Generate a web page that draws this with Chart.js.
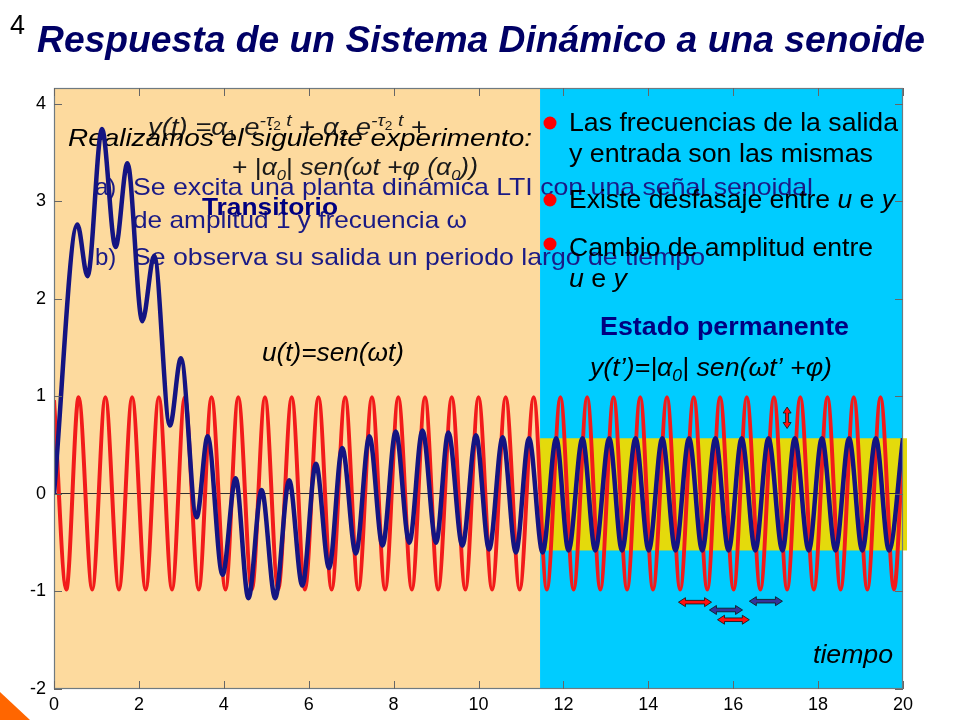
<!DOCTYPE html>
<html><head><meta charset="utf-8">
<script src="https://cdn.jsdelivr.net/npm/chart.js@4.4.1/dist/chart.umd.min.js"></script>
<style>html,body{margin:0;padding:0;background:#fff;}canvas{display:block;}</style>
</head><body>
<canvas id="c" width="960" height="720"></canvas>
<script>
// ---- data ----
// input u(t): extrema (time, value)
const redT = [0, 0.29, 0.58, 0.90, 1.21, 1.53, 1.84, 2.16, 2.47, 2.78, 3.08, 3.41, 3.71, 4.04, 4.34, 4.66, 4.97, 5.28, 5.60, 5.91, 6.23, 6.54, 6.86, 7.17, 7.49, 7.80, 8.11, 8.43, 8.74, 9.05, 9.37, 9.69, 10.00, 10.32, 10.64, 10.97, 11.30, 11.61, 11.93, 12.24, 12.56, 12.87, 13.18, 13.50, 13.81, 14.11, 14.44, 14.75, 15.07, 15.39, 15.69, 16.01, 16.32, 16.64, 16.96, 17.27, 17.58, 17.90, 18.22, 18.53, 18.84, 19.16, 19.47, 19.79, 20.00];
const redV = [0.96, -0.98, 0.99, -0.98, 0.99, -0.98, 0.99, -0.98, 0.99, -0.98, 0.99, -0.98, 0.99, -0.98, 0.99, -0.98, 0.99, -0.98, 0.99, -0.98, 0.99, -0.98, 0.99, -0.98, 0.99, -0.98, 0.99, -0.98, 0.99, -0.98, 0.99, -0.98, 0.99, -0.98, 0.99, -0.98, 0.99, -0.98, 0.99, -0.98, 0.99, -0.98, 0.99, -0.98, 0.99, -0.98, 0.99, -0.98, 0.99, -0.98, 0.99, -0.98, 0.99, -0.98, 0.99, -0.98, 0.99, -0.98, 0.99, -0.98, 0.99, -0.98, 0.99, -0.98, 0.55];
// output y(t): extrema (time, value)
const blueT = [0, 0.55, 0.79, 1.13, 1.45, 1.73, 2.08, 2.36, 2.73, 2.99, 3.36, 3.62, 3.97, 4.28, 4.58, 4.89, 5.21, 5.54, 5.85, 6.17, 6.48, 6.79, 7.11, 7.43, 7.74, 8.05, 8.37, 8.68, 9.00, 9.29, 9.62, 9.94, 10.25, 10.57, 10.88, 11.19, 11.51, 11.83, 12.12, 12.45, 12.75, 13.08, 13.38, 13.70, 14.01, 14.33, 14.64, 14.96, 15.27, 15.58, 15.89, 16.20, 16.52, 16.83, 17.16, 17.45, 17.78, 18.09, 18.41, 18.73, 19.04, 19.36, 19.67, 20.00];
const blueV = [0, 2.76, 2.23, 3.74, 2.53, 3.39, 1.77, 2.44, 0.70, 1.39, -0.24, 0.59, -0.83, 0.16, -1.07, 0.04, -1.07, 0.14, -0.94, 0.31, -0.76, 0.47, -0.61, 0.59, -0.53, 0.64, -0.50, 0.65, -0.50, 0.63, -0.53, 0.60, -0.57, 0.58, -0.60, 0.57, -0.60, 0.57, -0.58, 0.57, -0.58, 0.57, -0.58, 0.57, -0.58, 0.57, -0.58, 0.57, -0.58, 0.57, -0.58, 0.57, -0.58, 0.57, -0.58, 0.57, -0.58, 0.57, -0.58, 0.57, -0.58, 0.57, -0.58, 0.57];
const steadyStart = 11.45;        // time where steady state region begins
const steadyBand = [-0.58, 0.57]; // amplitude band of output
const xRange = [0, 20];
const yRange = [-2, 4.16];
const xTickValues = [0, 2, 4, 6, 8, 10, 12, 14, 16, 18, 20];
const yTickValues = [-2, -1, 0, 1, 2, 3, 4];
// annotation arrows (data coords)
const hArrowT0 = [14.71, 15.44, 15.63, 16.38];
const hArrowT1 = [15.49, 16.22, 16.38, 17.16];
const hArrowV  = [-1.11, -1.19, -1.29, -1.10];
const vArrowT = 17.27, vArrowV = [0.67, 0.89];

const SANS = '"Liberation Sans", Arial, sans-serif';
const NAVY = '#1A1A85';

function drawRich(ctx, segs, x, y, width) {
  let total = 0;
  const ws = segs.map(s => { ctx.font = s[1]; const w = ctx.measureText(s[0]).width; total += w; return w; });
  const sx = width ? width / total : 1;
  ctx.save();
  ctx.translate(x, y); ctx.scale(sx, 1);
  ctx.textBaseline = 'alphabetic'; ctx.textAlign = 'left';
  let cx = 0;
  segs.forEach((s, i) => { ctx.font = s[1]; ctx.fillStyle = s[3] || '#000'; ctx.fillText(s[0], cx, s[2] || 0); cx += ws[i]; });
  ctx.restore();
}
const F = (st, sz) => st + ' ' + sz + 'px ' + SANS;

function hArrow(ctx, x0, x1, y, fill) {
  const h = 7, hw = 4.5, sw = 1.8;
  ctx.beginPath();
  ctx.moveTo(x0, y); ctx.lineTo(x0 + h, y - hw); ctx.lineTo(x0 + h, y - sw); ctx.lineTo(x1 - h, y - sw);
  ctx.lineTo(x1 - h, y - hw); ctx.lineTo(x1, y); ctx.lineTo(x1 - h, y + hw); ctx.lineTo(x1 - h, y + sw);
  ctx.lineTo(x0 + h, y + sw); ctx.lineTo(x0 + h, y + hw); ctx.closePath();
  ctx.fillStyle = fill; ctx.fill(); ctx.strokeStyle = '#111'; ctx.lineWidth = 0.8; ctx.stroke();
}
function vArrow(ctx, x, y0, y1, fill) {
  const h = 6, hw = 4, sw = 1.5;
  ctx.beginPath();
  ctx.moveTo(x, y0); ctx.lineTo(x + hw, y0 + h); ctx.lineTo(x + sw, y0 + h); ctx.lineTo(x + sw, y1 - h);
  ctx.lineTo(x + hw, y1 - h); ctx.lineTo(x, y1); ctx.lineTo(x - hw, y1 - h); ctx.lineTo(x - sw, y1 - h);
  ctx.lineTo(x - sw, y0 + h); ctx.lineTo(x - hw, y0 + h); ctx.closePath();
  ctx.fillStyle = fill; ctx.fill(); ctx.strokeStyle = '#111'; ctx.lineWidth = 0.8; ctx.stroke();
}

const decor = {
  id: 'decor',
  beforeDraw(chart) {
    const { ctx, chartArea: a, scales: { x, y } } = chart;
    ctx.save();
    ctx.fillStyle = '#fff'; ctx.fillRect(0, 0, chart.width, chart.height);
    const xs = x.getPixelForValue(steadyStart);
    ctx.fillStyle = '#FDDA9E'; ctx.fillRect(a.left, a.top, xs - a.left, a.bottom - a.top);
    ctx.fillStyle = '#00CCFF'; ctx.fillRect(xs, a.top, a.right - xs, a.bottom - a.top);
    const yt = y.getPixelForValue(steadyBand[1]), yb = y.getPixelForValue(steadyBand[0]);
    ctx.fillStyle = '#E4DA0C'; ctx.fillRect(xs, yt, a.right - xs + 4, yb - yt);
    ctx.restore();
  },
  beforeDatasetsDraw(chart) {
    const ctx = chart.ctx;
    ctx.save();
    // slide number and title
    drawRich(ctx, [['4', F('', 28), 0, '#000']], 10, 34, 15);
    drawRich(ctx, [['Respuesta de un Sistema Dinámico a una senoide', F('italic bold', 36), 0, '#000066']], 37, 52, 888);
    // formula (figure text)
    const G = '#1a1a1a';
    drawRich(ctx, [
      ['y(t) =', F('italic', 24), 0, G], ['α', F('italic', 24), 0, G], ['1', F('', 15), 5, G],
      [' e', F('italic', 24), 0, G], ['-τ', F('italic', 17), -9, G], ['2', F('', 12), -5, G], [' t', F('italic', 17), -9, G],
      [' + ', F('', 24), 0, G], ['α', F('italic', 24), 0, G], ['2', F('', 15), 5, G],
      [' e', F('italic', 24), 0, G], ['-τ', F('italic', 17), -9, G], ['2', F('', 12), -5, G], [' t', F('italic', 17), -9, G],
      [' +', F('', 24), 0, G]], 148, 135, 279);
    drawRich(ctx, [
      ['+ |', F('', 24), 0, G], ['α', F('italic', 24), 0, G], ['0', F('italic', 15), 5, G], ['| ', F('', 24), 0, G],
      ['sen(ωt +φ (α', F('italic', 24), 0, G], ['0', F('italic', 15), 5, G], ['))', F('italic', 24), 0, G]], 232, 175, 246);
    // left text block
    drawRich(ctx, [['Realizamos el siguiente experimento:', F('italic', 24), 0, '#000']], 68, 146, 464);
    drawRich(ctx, [['a)', F('', 24), 0, NAVY]], 95, 195);
    drawRich(ctx, [['Se excita una planta dinámica LTI con una señal senoidal', F('', 24), 0, NAVY]], 133, 195, 680);
    drawRich(ctx, [['de amplitud 1 y frecuencia ω', F('', 24), 0, NAVY]], 133, 228, 334);
    drawRich(ctx, [['Transitorio', F('bold', 24), 0, '#000080']], 202, 215, 136);
    drawRich(ctx, [['b)', F('', 24), 0, NAVY]], 95, 265);
    drawRich(ctx, [['Se observa su salida un periodo largo de tiempo', F('', 24), 0, NAVY]], 133, 265, 572);
    // right bullets
    ctx.fillStyle = '#FF0000';
    [123, 200, 244].forEach(cy => { ctx.beginPath(); ctx.arc(550, cy, 6.5, 0, Math.PI * 2); ctx.fill(); });
    drawRich(ctx, [['Las frecuencias de la salida', F('', 26)]], 569, 131, 329);
    drawRich(ctx, [['y entrada son las mismas', F('', 26)]], 569, 162, 304);
    drawRich(ctx, [['Existe desfasaje entre ', F('', 26)], ['u', F('italic', 26)], [' e ', F('', 26)], ['y', F('italic', 26)]], 569, 208, 326);
    drawRich(ctx, [['Cambio de amplitud entre', F('', 26)]], 569, 256, 304);
    drawRich(ctx, [['u', F('italic', 26)], [' e ', F('', 26)], ['y', F('italic', 26)]], 569, 287, 58);
    drawRich(ctx, [['Estado permanente', F('bold', 25), 0, '#000080']], 600, 335, 249);
    drawRich(ctx, [['y(t’)=|', F('italic', 26)], ['α', F('italic', 26)], ['0', F('italic', 17), 5], ['| sen(ωt’ +φ)', F('italic', 26)]], 590, 376, 242);
    drawRich(ctx, [['u(t)=sen(ωt)', F('italic', 26)]], 262, 361, 142);
    drawRich(ctx, [['tiempo', F('italic', 26)]], 813, 663, 80);
    // corner triangle
    ctx.fillStyle = '#FF6600';
    ctx.beginPath(); ctx.moveTo(0, 692); ctx.lineTo(30, 720); ctx.lineTo(0, 720); ctx.closePath(); ctx.fill();
    ctx.restore();
  },
  afterDatasetsDraw(chart) {
    const { ctx, chartArea: a, scales: { x, y } } = chart;
    ctx.save();
    // frame
    ctx.strokeStyle = '#6F7A80'; ctx.lineWidth = 1.2;
    ctx.strokeRect(a.left + 0.5, a.top + 0.5, a.right - a.left - 1, a.bottom - a.top - 1);
    // inward ticks
    ctx.strokeStyle = '#666'; ctx.lineWidth = 1;
    ctx.beginPath();
    x.ticks.forEach(t => {
      const px = Math.round(x.getPixelForValue(t.value)) + 0.5;
      ctx.moveTo(px, a.bottom); ctx.lineTo(px, a.bottom - 8);
      ctx.moveTo(px, a.top); ctx.lineTo(px, a.top + 8);
    });
    y.ticks.forEach(t => {
      const py = Math.round(y.getPixelForValue(t.value)) + 0.5;
      ctx.moveTo(a.left, py); ctx.lineTo(a.left + 8, py);
      ctx.moveTo(a.right, py); ctx.lineTo(a.right - 8, py);
    });
    ctx.stroke();
    // arrows
    const cols = ['#FF1010', '#333399', '#FF1010', '#333399'];
    hArrowT0.forEach((t0, i) => hArrow(ctx, x.getPixelForValue(t0), x.getPixelForValue(hArrowT1[i]), y.getPixelForValue(hArrowV[i]), cols[i]));
    vArrow(ctx, x.getPixelForValue(vArrowT), y.getPixelForValue(vArrowV[1]), y.getPixelForValue(vArrowV[0]), '#FF1010');
    ctx.restore();
  }
};

new Chart(document.getElementById('c'), {
  type: 'line',
  data: {
    datasets: [
      { label: 'y(t)', data: blueT.map((t, i) => ({ x: t, y: blueV[i] })), borderColor: '#141482', borderWidth: 4.5,
        pointRadius: 0, cubicInterpolationMode: 'monotone', fill: false, order: 0 },
      { label: 'u(t)', data: redT.map((t, i) => ({ x: t, y: redV[i] })), borderColor: '#F21B1B', borderWidth: 4,
        pointRadius: 0, cubicInterpolationMode: 'monotone', fill: false, order: 1 }
    ]
  },
  options: {
    responsive: false, animation: false, devicePixelRatio: 1,
    layout: { padding: { top: 88, right: 57, left: 0, bottom: 0 } },
    plugins: { legend: { display: false }, tooltip: { enabled: false } },
    scales: {
      x: { type: 'linear', min: xRange[0], max: xRange[1],
        ticks: { color: '#000', font: { family: SANS, size: 18 }, padding: 5, maxRotation: 0, autoSkip: false },
        afterBuildTicks(s) { s.ticks = xTickValues.map(v => ({ value: v })); },
        grid: { display: false, drawTicks: false }, border: { display: false },
        afterFit(s) { s.height = 31; } },
      y: { type: 'linear', min: yRange[0], max: yRange[1],
        ticks: { color: '#000', font: { family: SANS, size: 18 }, padding: 8 },
        afterBuildTicks(s) { s.ticks = yTickValues.map(v => ({ value: v })); },
        grid: { drawTicks: false, lineWidth: 1, color: c => (c.tick && c.tick.value === 0) ? '#303030' : 'rgba(0,0,0,0)' },
        border: { display: false },
        afterFit(s) { s.width = 54; } }
    }
  },
  plugins: [decor]
});
</script>
</body></html>
